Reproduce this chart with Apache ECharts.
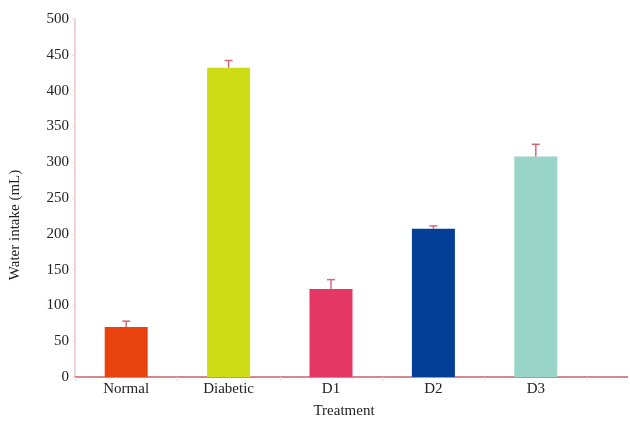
<!DOCTYPE html>
<html>
<head>
<meta charset="utf-8">
<script src="https://cdn.jsdelivr.net/npm/echarts@6/dist/echarts.min.js"></script>
<style>
  html, body { margin: 0; padding: 0; background: #ffffff; width: 630px; height: 424px; overflow: hidden; }
  #chart { width: 630px; height: 424px; display: block; }
</style>
</head>
<body>
<div id="chart"></div>
<script>
// Daily water intake by treatment group (mean ± error)
const categories = ['Normal', 'Diabetic', 'D1', 'D2', 'D3'];
const intake = [70, 432, 123, 207, 308];
const intakeError = [8, 10, 13, 4, 17];
const barColors = ['#e8430f', '#cddc14', '#e43764', '#033f97', '#99d4c9'];
const yTicks = { min: 0, max: 500, interval: 50 };

const chart = echarts.init(document.getElementById('chart'));
const serif = 'Liberation Serif';

const option = {
  backgroundColor: '#ffffff',
  animation: false,
  grid: { left: 73, right: 43, top: 19, bottom: 40 },
  xAxis: {
    type: 'category',
    data: categories,
    name: 'Treatment',
    nameLocation: 'middle',
    nameGap: 27,
    nameTextStyle: { fontFamily: serif, fontSize: 15, color: '#222', padding: [0, 0, 0, 26] },
    axisLine: { lineStyle: { color: '#d8868c', width: 2 } },
    axisTick: { show: true, length: 4, lineStyle: { color: '#e6e0e0' } },
    axisLabel: { fontFamily: serif, fontSize: 15, color: '#222', margin: 5 }
  },
  yAxis: {
    type: 'value',
    min: yTicks.min,
    max: yTicks.max,
    interval: yTicks.interval,
    name: 'Water intake (mL)',
    nameLocation: 'middle',
    nameGap: 52,
    nameTextStyle: { fontFamily: serif, fontSize: 15, color: '#222', padding: [0, 54, 0, 0] },
    axisLine: { show: true, lineStyle: { color: '#f0d2d4', width: 2 } },
    axisTick: { show: true, length: 3, lineStyle: { color: '#f0dcdc' } },
    splitLine: { show: false },
    axisLabel: { fontFamily: serif, fontSize: 15, color: '#222', margin: 6 }
  },
  series: [
    {
      type: 'bar',
      barWidth: 43,
      data: intake.map((v, i) => ({ value: v, itemStyle: { color: barColors[i] } })),
      z: 2
    },
    {
      type: 'custom',
      z: 3,
      data: intake.map((v, i) => [i, v, v + intakeError[i]]),
      renderItem: function (params, api) {
        const base = api.coord([api.value(0), api.value(1)]);
        const top = api.coord([api.value(0), api.value(2)]);
        const half = 4;
        const style = { stroke: '#cf6a78', lineWidth: 1.5 };
        return {
          type: 'group',
          children: [
            { type: 'line', shape: { x1: base[0], y1: base[1], x2: top[0], y2: top[1] }, style: style },
            { type: 'line', shape: { x1: top[0] - half, y1: top[1], x2: top[0] + half, y2: top[1] }, style: style }
          ]
        };
      }
    }
  ]
};
chart.setOption(option);

// The baseline continues a little past the last category
const origin = chart.convertToPixel({ gridIndex: 0 }, [categories.length - 1, 0]);
const w = chart.getWidth();
chart.setOption({
  graphic: [{
    type: 'line',
    shape: { x1: origin[0], y1: origin[1], x2: w - 2, y2: origin[1] },
    style: { stroke: '#d8868c', lineWidth: 2 },
    silent: true
  }]
});
</script>
</body>
</html>
